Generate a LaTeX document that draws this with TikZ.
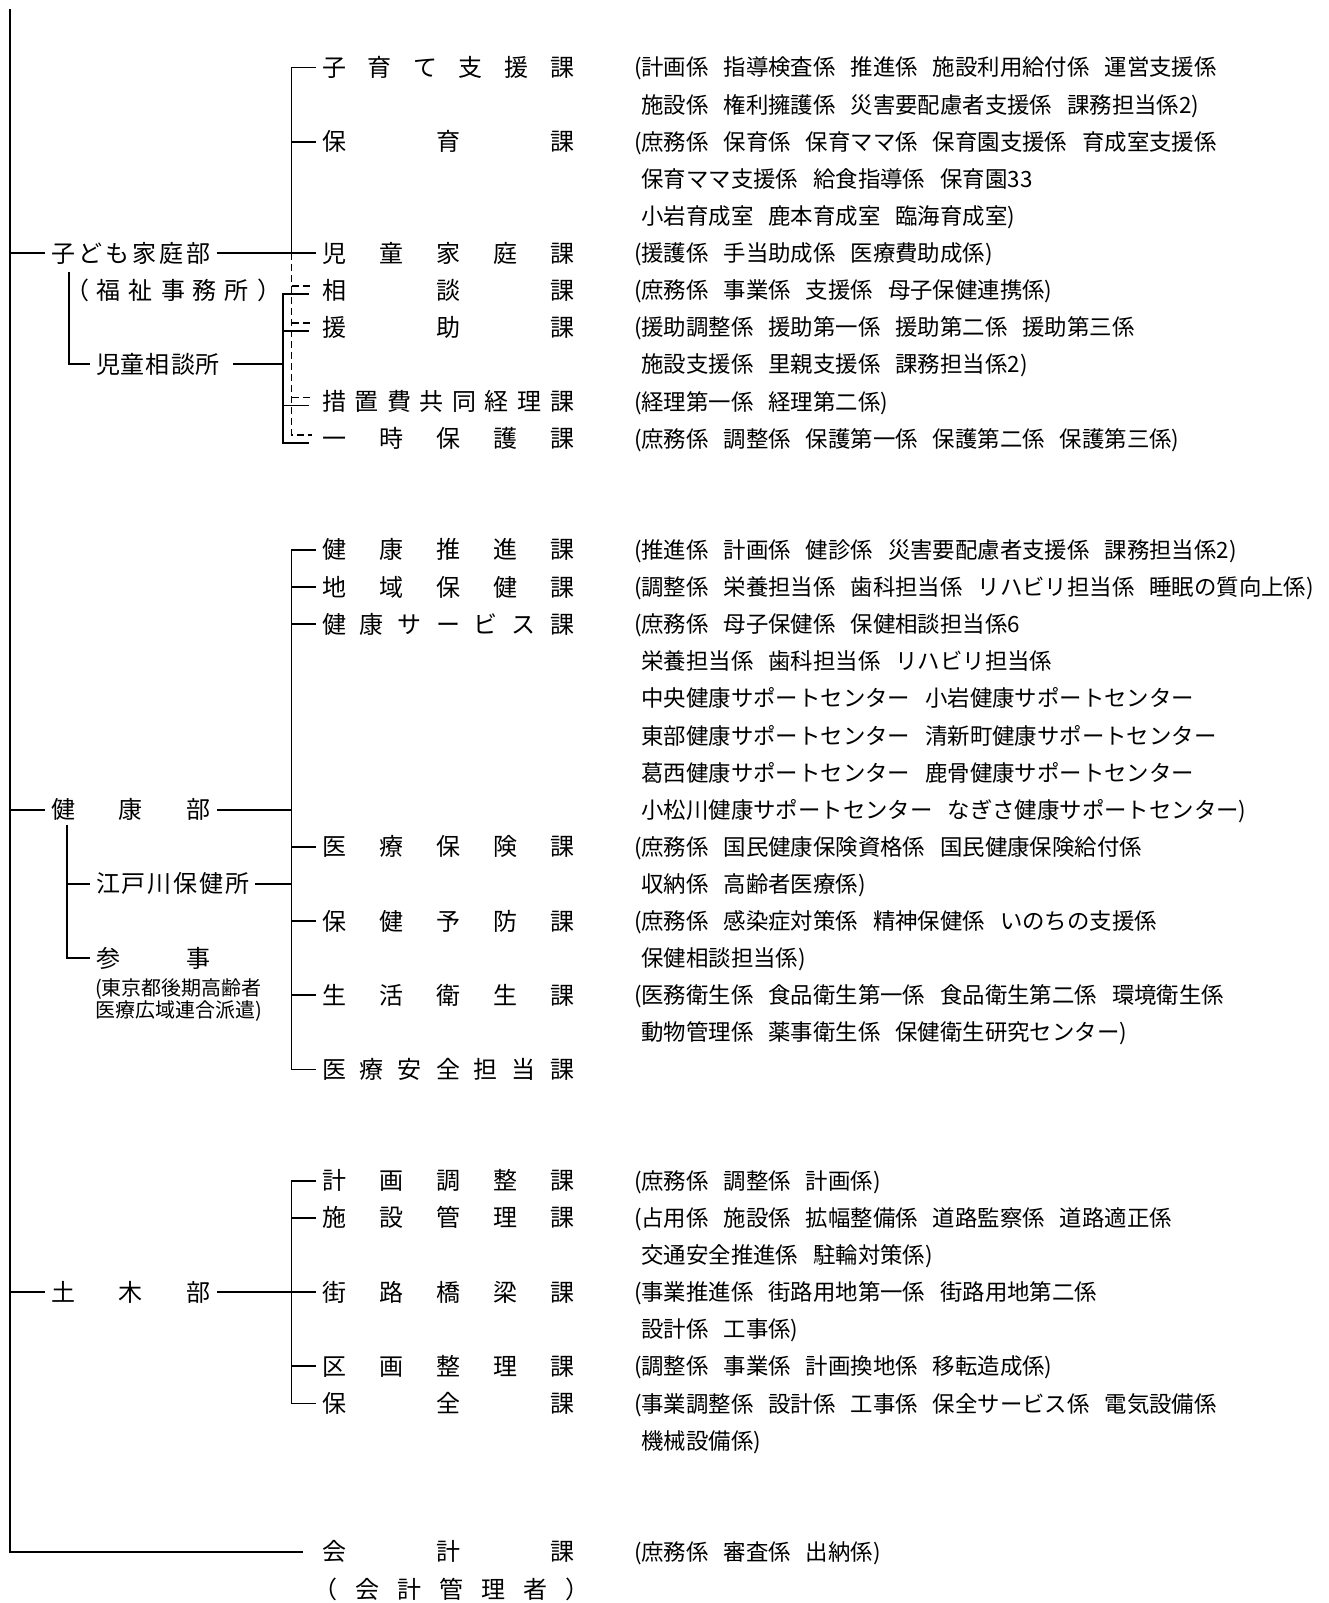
\documentclass[tikz,border=0pt]{standalone}
\usepackage{fontspec}
\setmainfont{Noto Sans CJK JP}
\usetikzlibrary{calc}
\newcommand\spr[2]{\hbox to #1pt{#2}}
\newcommand\gs{\hspace{15pt}}
\newcommand\ind{\phantom{(}}
\tikzset{
  ln/.style={line width=1.9pt},
  mainln/.style={line width=2.6pt},
  dln/.style={line width=1.9pt, dash pattern=on 7pt off 4pt},
  sect/.style={anchor=west, inner sep=0pt, outer xsep=6pt, outer ysep=0pt,
    font=\fontsize{24}{24}\selectfont, text height=21pt, text depth=3pt},
  lbl/.style={sect, outer xsep=0pt},
  det/.style={anchor=west, inner sep=0pt, outer sep=0pt,
    font=\fontsize{22.4}{22.4}\selectfont, text height=19.7pt, text depth=2.7pt},
  note/.style={anchor=west, inner sep=0pt, outer sep=0pt,
    font=\fontsize{20}{20}\selectfont, text height=17.6pt, text depth=2.4pt},
}
\begin{document}
\begin{tikzpicture}[x=1pt,y=-1pt]
\fill[white] (0,0) rectangle (1328,1603);
\useasboundingbox (0,0) rectangle (1328,1603);

% ---------- spine coordinates ----------
\coordinate (mtop) at (10,9);
\coordinate (m5) at (10,253.0);
\coordinate (m20) at (10,809.7);
\coordinate (m33) at (10,1292.1);
\coordinate (mbot) at (10,1551.9);

% ---------- departments ----------
\node[sect] (kodomo) at (45,253.0) {\spr{160}{子\hfill ど\hfill も\hfill 家\hfill 庭\hfill 部}};
\node[lbl] (fukushi) at (65,290.2) {\spr{216}{（\hfill 福\hfill 祉\hfill 事\hfill 務\hfill 所\hfill ）}};
\node[sect] (jiso) at (90,364.4) {\spr{124}{児\hfill 童\hfill 相\hfill 談\hfill 所}};
\node[sect] (kenko) at (45,809.7) {\spr{160}{健\hfill 康\hfill 部}};
\node[sect] (edo) at (90,883.9) {\spr{153}{江\hfill 戸\hfill 川\hfill 保\hfill 健\hfill 所}};
\node[sect] (sanji) at (90,958.1) {\spr{115}{参\hfill 事}};
\node[note] (note1) at (95,988) {(東京都後期高齢者};
\node[note] (note2) at (95,1010) {医療広域連合派遣)};
\node[sect] (doboku) at (45,1292.1) {\spr{160}{土\hfill 木\hfill 部}};

% ---------- sections ----------
\node[sect] (s0) at (316,67.5) {\spr{252}{子\hfill 育\hfill て\hfill 支\hfill 援\hfill 課}};
\node[sect] (s2) at (316,141.7) {\spr{252}{保\hfill 育\hfill 課}};
\node[sect] (s5) at (316,253.0) {\spr{252}{児\hfill 童\hfill 家\hfill 庭\hfill 課}};
\node[sect] (s6) at (316,290.2) {\spr{252}{相\hfill 談\hfill 課}};
\node[sect] (s7) at (316,327.3) {\spr{252}{援\hfill 助\hfill 課}};
\node[sect] (s9) at (316,401.5) {\spr{252}{措\hfill 置\hfill 費\hfill 共\hfill 同\hfill 経\hfill 理\hfill 課}};
\node[sect] (s10) at (316,438.6) {\spr{252}{一\hfill 時\hfill 保\hfill 護\hfill 課}};

\node[sect] (t13) at (316,549.9) {\spr{252}{健\hfill 康\hfill 推\hfill 進\hfill 課}};
\node[sect] (t14) at (316,587.0) {\spr{252}{地\hfill 域\hfill 保\hfill 健\hfill 課}};
\node[sect] (t15) at (316,624.2) {\spr{252}{健\hfill 康\hfill サ\hfill ー\hfill ビ\hfill ス\hfill 課}};
\node[sect] (t21) at (316,846.8) {\spr{252}{医\hfill 療\hfill 保\hfill 険\hfill 課}};
\node[sect] (t23) at (316,921.0) {\spr{252}{保\hfill 健\hfill 予\hfill 防\hfill 課}};
\node[sect] (t25) at (316,995.3) {\spr{252}{生\hfill 活\hfill 衛\hfill 生\hfill 課}};
\node[sect] (t27) at (316,1069.5) {\spr{252}{医\hfill 療\hfill 安\hfill 全\hfill 担\hfill 当\hfill 課}};

\node[sect] (u30) at (316,1180.8) {\spr{252}{計\hfill 画\hfill 調\hfill 整\hfill 課}};
\node[sect] (u31) at (316,1217.9) {\spr{252}{施\hfill 設\hfill 管\hfill 理\hfill 課}};
\node[sect] (u33) at (316,1292.1) {\spr{252}{街\hfill 路\hfill 橋\hfill 梁\hfill 課}};
\node[sect] (u35) at (316,1366.4) {\spr{252}{区\hfill 画\hfill 整\hfill 理\hfill 課}};
\node[sect] (u36) at (316,1403.5) {\spr{252}{保\hfill 全\hfill 課}};

\node[sect, outer xsep=19pt] (kaikei) at (303,1551.9) {\spr{252}{会\hfill 計\hfill 課}};
\node[lbl] (kanri) at (313,1589.0) {\spr{276}{（\hfill 会\hfill 計\hfill 管\hfill 理\hfill 者\hfill ）}};

% ---------- details ----------
\node[det] (d0) at (634,67.5) {(計画係\gs 指導検査係\gs 推進係\gs 施設利用給付係\gs 運営支援係};
\node[det] (d1) at (634,104.6) {\ind 施設係\gs 権利擁護係\gs 災害要配慮者支援係\gs 課務担当係2)};
\node[det] (d2) at (634,141.7) {(庶務係\gs 保育係\gs 保育ママ係\gs 保育園支援係\gs 育成室支援係};
\node[det] (d3) at (634,178.8) {\ind 保育ママ支援係\gs 給食指導係\gs 保育園33};
\node[det] (d4) at (634,215.9) {\ind 小岩育成室\gs 鹿本育成室\gs 臨海育成室)};
\node[det] (d5) at (634,253.0) {(援護係\gs 手当助成係\gs 医療費助成係)};
\node[det] (d6) at (634,290.2) {(庶務係\gs 事業係\gs 支援係\gs 母子保健連携係)};
\node[det] (d7) at (634,327.3) {(援助調整係\gs 援助第一係\gs 援助第二係\gs 援助第三係};
\node[det] (d8) at (634,364.4) {\ind 施設支援係\gs 里親支援係\gs 課務担当係2)};
\node[det] (d9) at (634,401.5) {(経理第一係\gs 経理第二係)};
\node[det] (d10) at (634,438.6) {(庶務係\gs 調整係\gs 保護第一係\gs 保護第二係\gs 保護第三係)};
\node[det] (d13) at (634,549.9) {(推進係\gs 計画係\gs 健診係\gs 災害要配慮者支援係\gs 課務担当係2)};
\node[det] (d14) at (634,587.0) {(調整係\gs 栄養担当係\gs 歯科担当係\gs リハビリ担当係\gs 睡眠の質向上係)};
\node[det] (d15) at (634,624.2) {(庶務係\gs 母子保健係\gs 保健相談担当係6};
\node[det] (d16) at (634,661.3) {\ind 栄養担当係\gs 歯科担当係\gs リハビリ担当係};
\node[det] (d17) at (634,698.4) {\ind 中央健康サポートセンター\gs 小岩健康サポートセンター};
\node[det] (d18) at (634,735.5) {\ind 東部健康サポートセンター\gs 清新町健康サポートセンター};
\node[det] (d19) at (634,772.6) {\ind 葛西健康サポートセンター\gs 鹿骨健康サポートセンター};
\node[det] (d20) at (634,809.7) {\ind 小松川健康サポートセンター\gs なぎさ健康サポートセンター)};
\node[det] (d21) at (634,846.8) {(庶務係\gs 国民健康保険資格係\gs 国民健康保険給付係};
\node[det] (d22) at (634,883.9) {\ind 収納係\gs 高齢者医療係)};
\node[det] (d23) at (634,921.0) {(庶務係\gs 感染症対策係\gs 精神保健係\gs いのちの支援係};
\node[det] (d24) at (634,958.1) {\ind 保健相談担当係)};
\node[det] (d25) at (634,995.3) {(医務衛生係\gs 食品衛生第一係\gs 食品衛生第二係\gs 環境衛生係};
\node[det] (d26) at (634,1032.4) {\ind 動物管理係\gs 薬事衛生係\gs 保健衛生研究センター)};
\node[det] (d30) at (634,1180.8) {(庶務係\gs 調整係\gs 計画係)};
\node[det] (d31) at (634,1217.9) {(占用係\gs 施設係\gs 拡幅整備係\gs 道路監察係\gs 道路適正係};
\node[det] (d32) at (634,1255.0) {\ind 交通安全推進係\gs 駐輪対策係)};
\node[det] (d33) at (634,1292.1) {(事業推進係\gs 街路用地第一係\gs 街路用地第二係};
\node[det] (d34) at (634,1329.2) {\ind 設計係\gs 工事係)};
\node[det] (d35) at (634,1366.4) {(調整係\gs 事業係\gs 計画換地係\gs 移転造成係)};
\node[det] (d36) at (634,1403.5) {(事業調整係\gs 設計係\gs 工事係\gs 保全サービス係\gs 電気設備係};
\node[det] (d37) at (634,1440.6) {\ind 機械設備係)};
\node[det] (d40) at (634,1551.9) {(庶務係\gs 審査係\gs 出納係)};

% ---------- connectors ----------
% main spine and 会計課
\draw[mainln] (mtop) -- (mbot) -- (kaikei.west);
\draw[ln] (m5) -- (kodomo.west);
\draw[ln] (m20) -- (kenko.west);
\draw[ln] (m33) -- (doboku.west);

% 子ども家庭部 group
\coordinate (b1t) at (291.5,67.5);
\coordinate (b1m) at (291.5,253.0);
\coordinate (b1d) at (291.5,434.6);
\draw[ln] (s0.west) -- (b1t) -- (b1m);
\draw[ln] (b1t |- s2.west) -- (s2.west);
\draw[ln] (kodomo.east) -- (s5.west);
\draw[dln] (b1m) -- (b1d) -- ($(s10.west)+(-4,-4)$);
\draw[dln] ($(b1m |- s6.west)+(0,-4)$) -- ($(s6.west)+(-4,-4)$);
\draw[dln] ($(b1m |- s7.west)+(0,-4)$) -- ($(s7.west)+(-4,-4)$);
\draw[dln] ($(b1m |- s9.west)+(0,-4)$) -- ($(s9.west)+(-4,-4)$);

\coordinate (b2t) at (283.4,294.2);
\coordinate (b2b) at (283.4,442.6);
\draw[ln] ($(s6.west)+(-7,4)$) -- (b2t) -- (b2b) -- ($(s10.west)+(-7,4)$);
\draw[ln] ($(b2t |- s7.west)+(0,4)$) -- ($(s7.west)+(-7,4)$);
\draw[ln] ($(b2t |- s9.west)+(0,4)$) -- ($(s9.west)+(-7,4)$);
\draw[ln] ($(jiso.east)+(7,0)$) -- (b2t |- jiso.east);

\coordinate (l1t) at (69.3,271.7);
\draw[ln] (l1t) -- (l1t |- jiso.west) -- (jiso.west);

% 健康部 group
\coordinate (b3t) at (291.5,549.9);
\coordinate (b3b) at (291.5,1069.5);
\draw[ln] (t13.west) -- (b3t) -- (b3b) -- (t27.west);
\draw[ln] (b3t |- t14.west) -- (t14.west);
\draw[ln] (b3t |- t15.west) -- (t15.west);
\draw[ln] (b3t |- t21.west) -- (t21.west);
\draw[ln] (b3t |- t23.west) -- (t23.west);
\draw[ln] (b3t |- t25.west) -- (t25.west);
\draw[ln] (kenko.east) -- (b3t |- kenko.east);
\draw[ln] (edo.east) -- (b3t |- edo.east);

\coordinate (l2t) at (66.7,825);
\draw[ln] (l2t) -- (l2t |- sanji.west) -- (sanji.west);
\draw[ln] (l2t |- edo.west) -- (edo.west);

% 土木部 group
\coordinate (b4t) at (291.5,1180.8);
\coordinate (b4b) at (291.5,1403.5);
\draw[ln] (u30.west) -- (b4t) -- (b4b) -- (u36.west);
\draw[ln] (b4t |- u31.west) -- (u31.west);
\draw[ln] (b4t |- u35.west) -- (u35.west);
\draw[ln] (doboku.east) -- (u33.west);
\end{tikzpicture}
\end{document}
